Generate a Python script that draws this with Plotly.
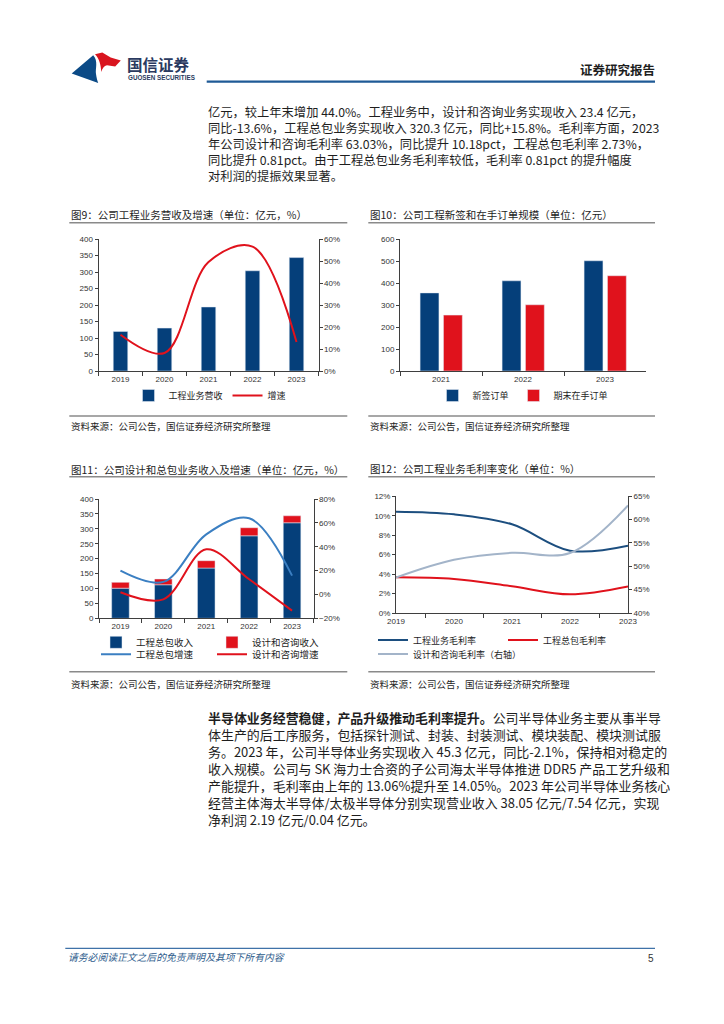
import plotly.graph_objects as go

W, H = 724, 1024


def px(x):
    return x / W


def py(y):
    return 1 - y / H


# ---------------- data ----------------
years = ["2019", "2020", "2021", "2022", "2023"]
eng_revenue = [120, 130, 194, 303.7, 343.7]          # 工程业务营收 (亿元)
eng_growth = [16.5, 8.2, 49.5, 56.5, 13.2]           # 增速 (%)

order_years = ["2021", "2022", "2023"]
new_orders = [355, 410, 501]                         # 新签订单 (亿元)
backlog = [254, 301, 433]                            # 期末在手订单 (亿元)

epc_revenue = [101, 112.5, 168.5, 276.6, 320.3]      # 工程总包收入
design_revenue = [19.5, 19.3, 24.6, 27.1, 23.4]      # 设计和咨询收入
epc_growth = [19.9, 10.5, 50.4, 63.8, 15.8]          # 工程总包增速 (%)
design_growth = [1.8, -4.1, 37.8, 12.7, -13.6]       # 设计和咨询增速 (%)

eng_gm = [10.42, 10.15, 9.12, 6.41, 6.93]            # 工程业务毛利率 (%)
epc_gm = [3.67, 3.50, 2.75, 1.92, 2.73]              # 工程总包毛利率 (%)
design_gm = [47.6, 51.4, 52.9, 52.85, 63.03]         # 设计和咨询毛利率 (%, 右轴)

para1 = [
    "亿元，较上年末增加 44.0%。工程业务中，设计和咨询业务实现收入 23.4 亿元，",
    "同比-13.6%，工程总包业务实现收入 320.3 亿元，同比+15.8%。毛利率方面，2023",
    "年公司设计和咨询毛利率 63.03%，同比提升 10.18pct，工程总包毛利率 2.73%，",
    "同比提升 0.81pct。由于工程总包业务毛利率较低，毛利率 0.81pct 的提升幅度",
    "对利润的提振效果显著。",
]
para2 = [
    "<b>半导体业务经营稳健，产品升级推动毛利率提升。</b>公司半导体业务主要从事半导",
    "体生产的后工序服务，包括探针测试、封装、封装测试、模块装配、模块测试服",
    "务。2023 年，公司半导体业务实现收入 45.3 亿元，同比-2.1%，保持相对稳定的",
    "收入规模。公司与 SK 海力士合资的子公司海太半导体推进 DDR5 产品工艺升级和",
    "产能提升，毛利率由上年的 13.06%提升至 14.05%。2023 年公司半导体业务核心",
    "经营主体海太半导体/太极半导体分别实现营业收入 38.05 亿元/7.54 亿元，实现",
    "净利润 2.19 亿元/0.04 亿元。",
]

titles = [
    "图9：公司工程业务营收及增速（单位：亿元，%）",
    "图10：公司工程新签和在手订单规模（单位：亿元）",
    "图11：公司设计和总包业务收入及增速（单位：亿元，%）",
    "图12：公司工程业务毛利率变化（单位：%）",
]
source_text = "资料来源：公司公告，国信证券经济研究所整理"

# ---------------- styles ----------------
CJK = "Noto Sans CJK SC"
TF = "Liberation Sans"
NAVY = "#053F7A"
RED = "#E0121C"
LBLUE = "#3B7FC2"
DLINE = "#1C4E7F"
GREYBLUE = "#A3B4C9"
AX = "#3F3F3F"
TXT = "#1E1E1E"

fig = go.Figure()

# Chart 1
fig.add_trace(go.Bar(x=years, y=eng_revenue, name="工程业务营收", marker_color=NAVY,
                     width=0.33, xaxis="x", yaxis="y", legend="legend"))
fig.add_trace(go.Scatter(x=years, y=eng_growth, name="增速", mode="lines",
                         line=dict(color=RED, width=2, shape="spline", smoothing=1),
                         xaxis="x", yaxis="y2", legend="legend"))
# Chart 2
fig.add_trace(go.Bar(x=order_years, y=new_orders, name="新签订单", marker_color=NAVY,
                     width=0.23, offset=-0.255, xaxis="x2", yaxis="y3", legend="legend2"))
fig.add_trace(go.Bar(x=order_years, y=backlog, name="期末在手订单", marker_color=RED,
                     width=0.23, offset=0.03, xaxis="x2", yaxis="y3", legend="legend2"))
# Chart 3
fig.add_trace(go.Bar(x=years, y=epc_revenue, name="工程总包收入", marker_color=NAVY,
                     width=0.41, xaxis="x3", yaxis="y4", legend="legend3"))
fig.add_trace(go.Bar(x=years, y=design_revenue, base=epc_revenue, name="设计和咨询收入",
                     marker_color=RED, width=0.41, xaxis="x3", yaxis="y4", legend="legend3"))
fig.add_trace(go.Scatter(x=years, y=epc_growth, name="工程总包增速", mode="lines",
                         line=dict(color=LBLUE, width=2, shape="spline", smoothing=1),
                         xaxis="x3", yaxis="y5", legend="legend4"))
fig.add_trace(go.Scatter(x=years, y=design_growth, name="设计和咨询增速", mode="lines",
                         line=dict(color=RED, width=2, shape="spline", smoothing=1),
                         xaxis="x3", yaxis="y5", legend="legend4"))
# Chart 4
fig.add_trace(go.Scatter(x=years, y=eng_gm, name="工程业务毛利率", mode="lines",
                         line=dict(color=DLINE, width=2, shape="spline", smoothing=1),
                         xaxis="x4", yaxis="y6", legend="legend5"))
fig.add_trace(go.Scatter(x=years, y=epc_gm, name="工程总包毛利率", mode="lines",
                         line=dict(color=RED, width=2, shape="spline", smoothing=1),
                         xaxis="x4", yaxis="y6", legend="legend5"))
fig.add_trace(go.Scatter(x=years, y=design_gm, name="设计和咨询毛利率（右轴）", mode="lines",
                         line=dict(color=GREYBLUE, width=2, shape="spline", smoothing=1),
                         xaxis="x4", yaxis="y7", legend="legend6"))

tickfont = dict(size=8, family=TF, color="#333333")


def xax(d0, d1, anchor):
    return dict(type="category", domain=[px(d0), px(d1)], anchor=anchor, showline=True,
                linecolor=AX, linewidth=1, ticks="outside", tickson="boundaries", ticklen=4,
                tickcolor=AX, tickfont=tickfont, showgrid=False, zeroline=False,
                fixedrange=True, automargin=False)


def yax(top, bot, anchor, rng, dtick, suffix="", side="left", overlay=None):
    d = dict(range=rng, dtick=dtick, anchor=anchor, showline=True, linecolor=AX, linewidth=1,
             ticks="outside", ticklen=3, tickcolor=AX, tickfont=tickfont, showgrid=False,
             zeroline=False, ticksuffix=suffix, side=side, fixedrange=True, automargin=False)
    if overlay:
        d["overlaying"] = overlay
    else:
        d["domain"] = [py(bot), py(top)]
    return d


legend_common = dict(orientation="h", font=dict(size=9, family=CJK, color=TXT),
                     bgcolor="rgba(0,0,0,0)", yanchor="middle", itemclick=False,
                     itemdoubleclick=False)

fig.update_layout(
    width=W, height=H, autosize=False,
    margin=dict(l=0, r=0, t=0, b=0, pad=0, autoexpand=False),
    paper_bgcolor="white", plot_bgcolor="white",
    barmode="overlay",
    font=dict(family=CJK, color=TXT),
    xaxis=xax(98.5, 318.5, "y"),
    yaxis=yax(239, 371, "x", [0, 400], 50),
    yaxis2=yax(239, 371, "x", [0, 60], 10, "%", "right", "y"),
    xaxis2=xax(400, 646, "y3"),
    yaxis3=yax(239, 371, "x2", [0, 600], 100),
    xaxis3=xax(99, 313.5, "y4"),
    yaxis4=yax(499, 618.3, "x3", [0, 400], 50),
    yaxis5=yax(499, 618.3, "x3", [-20, 80], 20, "%", "right", "y4"),
    xaxis4=xax(396, 628, "y6"),
    yaxis6=yax(496.3, 613, "x4", [0, 12], 2, "%"),
    yaxis7=yax(496.3, 613, "x4", [40, 65], 5, "%", "right", "y6"),
    legend=dict(legend_common, x=px(210), xanchor="center", y=py(395.5)),
    legend2=dict(legend_common, x=px(523), xanchor="center", y=py(395.5)),
    legend3=dict(legend_common, x=px(96), xanchor="left", y=py(642.3),
                 entrywidth=71, entrywidthmode="pixels", font=dict(size=9.5, family=CJK, color=TXT)),
    legend4=dict(legend_common, x=px(96), xanchor="left", y=py(654.3),
                 entrywidth=71, entrywidthmode="pixels", font=dict(size=9.5, family=CJK, color=TXT)),
    legend5=dict(legend_common, x=px(373), xanchor="left", y=py(640),
                 entrywidth=85, entrywidthmode="pixels"),
    legend6=dict(legend_common, x=px(373), xanchor="left", y=py(654)),
)

shapes = []


def hline(x0, x1, y, color, width):
    shapes.append(dict(type="line", xref="paper", yref="paper", x0=px(x0), x1=px(x1),
                       y0=py(y), y1=py(y), line=dict(color=color, width=width)))


# header / footer rules
hline(206.7, 655, 81.7, "#1F5A96", 2.2)
hline(65.3, 655, 948.3, "#3F72A8", 1.2)
# chart frames
for (x0, x1) in [(69.3, 347.3), (368.3, 655)]:
    hline(x0, x1, 222.7, "#8A8A8A", 1.6)
    hline(x0, x1, 416, "#8A8A8A", 1.6)
    hline(x0, x1, 476.7, "#8A8A8A", 1.6)
    hline(x0, x1, 671.7, "#8A8A8A", 1.6)


def path(cmds):
    out = []
    for c in cmds:
        if isinstance(c, str):
            out.append(c)
        else:
            out.append(f"{px(c[0]):.5f},{py(c[1]):.5f}")
    return " ".join(out)


# logo
shapes.append(dict(type="path", xref="paper", yref="paper", line=dict(width=0), fillcolor="#0B4A86",
                   path=path(["M", (71.7, 73.5), "L", (93.2, 55.2), "C", (98.5, 61), (95.2, 68.5),
                              (96, 74), "C", (96.6, 78), (97.2, 80.5), (98.2, 83), "Z"])))
shapes.append(dict(type="path", xref="paper", yref="paper", line=dict(width=0), fillcolor="#D9151F",
                   path=path(["M", (95, 54.3), "L", (102.3, 52.6), "L", (110.7, 57.6), "L", (120.8, 60.6),
                              "L", (115.2, 66.6), "L", (107, 65.3), "C", (104, 66), (102.3, 68.6),
                              (101.3, 72), "C", (100.8, 65), (99.5, 58.8), (95, 54.3), "Z"])))

annotations = []


def text(x, y, s, size, color=TXT, xanchor="left", family=CJK, yanchor="middle", height=None):
    a = dict(xref="paper", yref="paper", x=px(x), y=py(y), text=s, showarrow=False,
             xanchor=xanchor, yanchor=yanchor, align="right" if xanchor == "right" else "left",
             font=dict(size=size, family=family, color=color), borderpad=0)
    if height:
        a["height"] = height
        a["valign"] = "middle"
    annotations.append(a)


text(125.5, 63.5, "<b>国信证券</b>", 15.5, "#2A3A60")
text(126.5, 77.5, "<b>GUOSEN SECURITIES</b>", 6.3, "#2A3A60", family="Liberation Sans")
text(655.5, 69.5, "<b>证券研究报告</b>", 12.5, TXT, xanchor="right")

# paragraphs: one annotation per line, with a box as tall as the line pitch
for i, s in enumerate(para1):
    text(206.5, 112.3 + 15.95 * i, s, 12.27, height=15.5)
for i, s in enumerate(para2):
    text(206.5, 717.3 + 16.95 * i, s, 12.95, height=16.5)

text(69.5, 214, titles[0], 10.5)
text(368.8, 214, titles[1], 10.5)
text(69.5, 469, titles[2], 10.5)
text(368.8, 468.5, titles[3], 10.5)
for (x, y) in [(69.5, 425.7), (368.8, 425.7), (69.5, 684.3), (368.8, 684.3)]:
    text(x, y, source_text, 9.5)

text(66.5, 956.7, "<i>请务必阅读正文之后的免责声明及其项下所有内容</i>", 9.8, "#2E5C8C")
text(655, 958.3, "5", 10, "#333333", xanchor="right", family=TF)

fig.update_layout(shapes=shapes, annotations=annotations)
fig.write_html("out.html", config={"displayModeBar": False},
               post_script="document.body.style.margin='0';document.body.style.padding='0';")
